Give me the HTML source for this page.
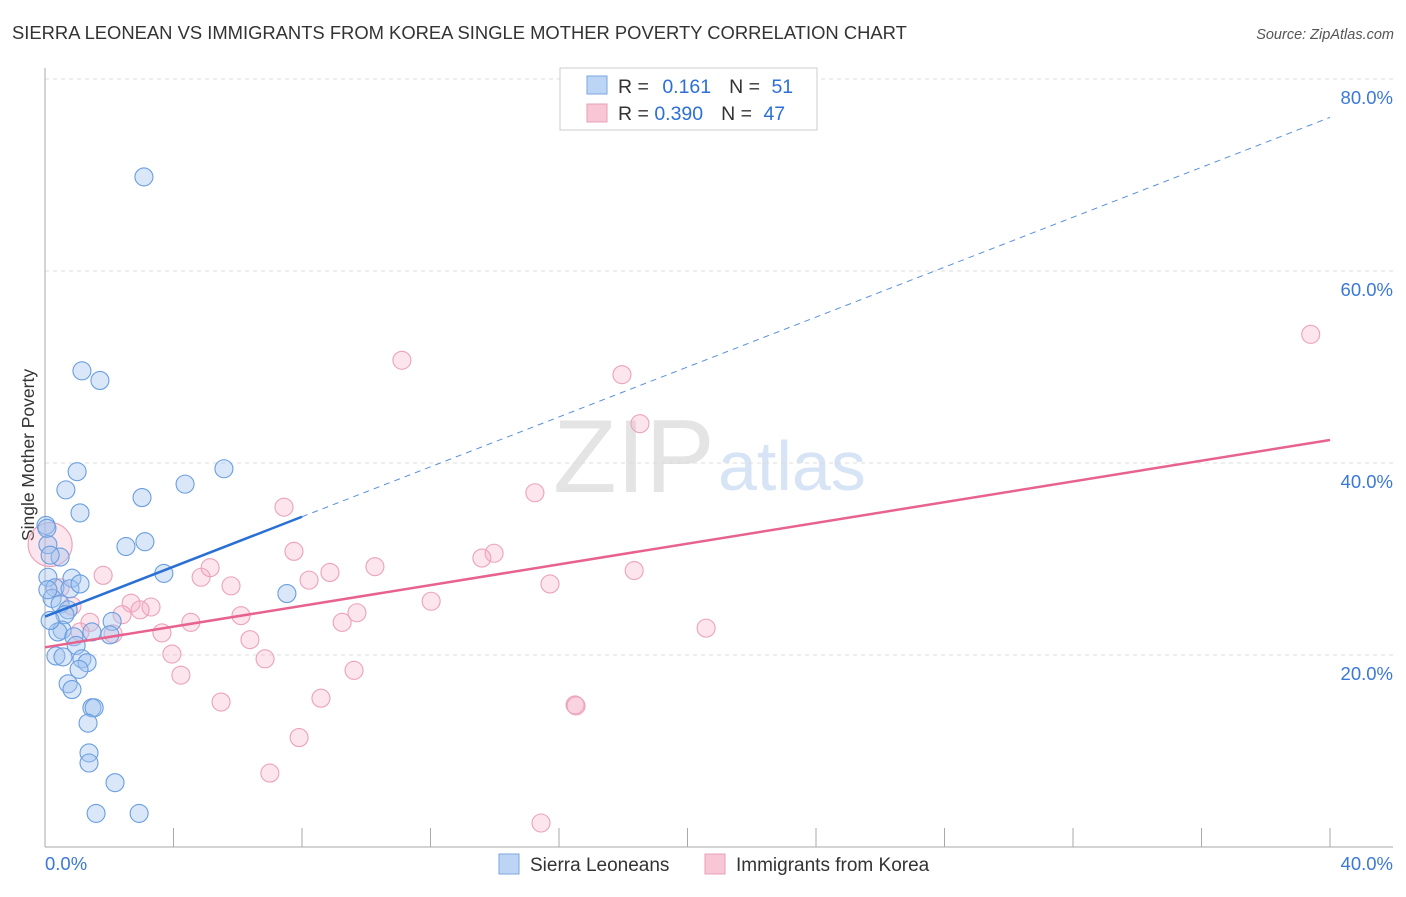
<!DOCTYPE html>
<html><head><meta charset="utf-8"><style>
body{margin:0;background:#fff;font-family:"Liberation Sans",sans-serif;}
svg text{font-family:"Liberation Sans",sans-serif;}
</style></head><body>
<svg id="c" width="1406" height="892">
<text x="12" y="39" font-size="18.4" fill="#333">SIERRA LEONEAN VS IMMIGRANTS FROM KOREA SINGLE MOTHER POVERTY CORRELATION CHART</text>
<text x="1394" y="39" font-size="14.5" fill="#555" text-anchor="end" font-style="italic">Source: ZipAtlas.com</text>
<text x="34" y="455" font-size="17.5" fill="#333" transform="rotate(-90 34 455)" text-anchor="middle">Single Mother Poverty</text>
<text x="553" y="492" font-size="104" fill="#e4e4e4" font-family="Liberation Serif">ZIP</text>
<text x="718" y="490" font-size="70" fill="#d6e4f5">atlas</text>
<g id="grid"></g><g id="pts"></g><g id="lines"></g>
<g>
<rect x="560" y="68" width="257" height="62" fill="#fff" stroke="#ccc"/>
<rect x="587" y="76" width="20" height="18" fill="#bcd5f5" stroke="#7aa6e0"/>
<rect x="587" y="104" width="20" height="18" fill="#f8c6d4" stroke="#e9a0b6"/>
<text x="618" y="93" font-size="19.5" fill="#333">R = <tspan fill="#2c6fd6" dx="8">0.161</tspan><tspan fill="#333" dx="18">N = </tspan><tspan fill="#2c6fd6" dx="6">51</tspan></text>
<text x="618" y="120" font-size="19.5" fill="#333">R = <tspan fill="#2c6fd6">0.390</tspan><tspan fill="#333" dx="18">N = </tspan><tspan fill="#2c6fd6" dx="6">47</tspan></text>
</g>
<g>
<rect x="499" y="854" width="20" height="20" fill="#bcd5f5" stroke="#7aa6e0"/>
<text x="530" y="871" font-size="19" fill="#333">Sierra Leoneans</text>
<rect x="705" y="854" width="20" height="20" fill="#f8c6d4" stroke="#e9a0b6"/>
<text x="736" y="871" font-size="19" fill="#333">Immigrants from Korea</text>
</g>
</svg>
<script>
const yTicks=[20,40,60,80];
const yTickLabels=["20.0%","40.0%","60.0%","80.0%"];
const xTickLabels=["0.0%","40.0%"];
const blueX=[3.08,1.15,1.71,5.57,1.0,4.36,0.65,3.02,1.09,0.03,3.11,2.52,0.09,0.47,0.16,3.70,0.09,0.84,0.31,0.78,7.53,0.22,0.47,0.72,0.62,2.09,0.53,0.40,2.02,1.46,0.90,0.97,0.34,0.56,1.15,1.31,1.06,0.72,0.84,1.46,1.53,1.34,1.37,1.37,2.18,1.59,2.93,0.09,1.09,0.16,0.06];
const blueY=[69.8,49.6,48.6,39.4,39.1,37.8,37.2,36.4,34.8,33.5,31.8,31.3,31.5,30.2,30.4,28.5,28.1,28.0,27.0,26.9,26.4,25.9,25.3,24.7,24.2,23.5,22.6,22.4,22.1,22.4,21.9,21.0,19.9,19.8,19.6,19.2,18.5,17.0,16.4,14.5,14.5,12.9,9.8,8.75,6.7,3.5,3.5,26.8,27.4,23.6,33.2];
const pinkX=[39.4,11.11,17.96,18.52,15.25,7.44,13.98,13.60,7.75,10.27,18.34,8.87,1.81,4.86,8.22,5.14,15.72,5.79,12.02,2.68,3.30,2.96,2.40,9.71,6.10,4.54,9.25,1.40,20.58,1.09,3.64,2.12,6.38,3.95,6.85,4.23,9.62,5.48,8.59,16.50,16.53,7.91,7.0,15.44,0.16,0.84,0.47];
const pinkY=[53.4,50.7,49.2,44.1,36.9,35.4,30.6,30.1,30.8,29.2,28.8,28.6,28.3,28.1,27.8,29.1,27.4,27.2,25.6,25.4,25.0,24.7,24.2,24.4,24.1,23.4,23.4,23.4,22.8,22.4,22.3,22.2,21.6,20.1,19.6,17.9,18.4,15.1,15.5,14.8,14.7,11.4,7.7,2.5,31.5,25.1,27.0];
const blueTrend=[24.0,76.0];const blueSolidEnd=8.0;
const pinkTrend=[20.8,42.4];
const X=v=>45+v/40*1285, Y=v=>847-v/20*192;
const NS="http://www.w3.org/2000/svg";
function mk(t,a,p){const e=document.createElementNS(NS,t);for(const k in a)e.setAttribute(k,a[k]);p.appendChild(e);return e;}
const g=document.getElementById('grid');
yTicks.forEach((t,i)=>{
 const l=mk('line',{x1:45,x2:1393,y1:Y(t),y2:Y(t),stroke:'#ddd','stroke-dasharray':'4,4'},g);
 
 
 const tx=mk('text',{x:1393,y:Y(t)+25,'font-size':18.5,fill:'#3a78d8','text-anchor':'end'},g);tx.textContent=yTickLabels[i];
 
 
});
mk('line',{x1:45,x2:45,y1:68,y2:847,stroke:'#aaa'},g);
mk('line',{x1:45,x2:1393,y1:847,y2:847,stroke:'#aaa'},g);
for(let i=0;i<=10;i++){mk('line',{x1:X(i*4),x2:X(i*4),y1:828,y2:847,stroke:'#aaa'},g);}
const xl=mk('text',{x:45,y:870,'font-size':18.5,fill:'#3a78d8'},g);xl.textContent=xTickLabels[0];


const xr=mk('text',{x:1393,y:870,'font-size':18.5,fill:'#3a78d8','text-anchor':'end'},g);xr.textContent=xTickLabels[1];


const p=document.getElementById('pts');
pinkX.forEach((x,i)=>{const c=mk('circle',{cx:X(x),cy:Y(pinkY[i]),r:i==44?22:9,fill:'rgba(246,170,195,0.3)',stroke:'#eba2ba','stroke-width':1.1},p);
 
 });
blueX.forEach((x,i)=>{const c=mk('circle',{cx:X(x),cy:Y(blueY[i]),r:9,fill:'rgba(160,196,240,0.4)',stroke:'#6a9ee0','stroke-width':1.1},p);
 
 });
const L=document.getElementById('lines');
const bf=x=>blueTrend[0]+(blueTrend[1]-blueTrend[0])*x/40;
const b1=mk('line',{x1:X(0),y1:Y(bf(0)),x2:X(blueSolidEnd),y2:Y(bf(blueSolidEnd)),stroke:'#2a6fd4','stroke-width':2.5},L);


const b2=mk('line',{x1:X(blueSolidEnd),y1:Y(bf(blueSolidEnd)),x2:X(40),y2:Y(bf(40)),stroke:'#5a90dc','stroke-width':1,'stroke-dasharray':'6,5'},L);


const pl=mk('line',{x1:X(0),y1:Y(pinkTrend[0]),x2:X(40),y2:Y(pinkTrend[1]),stroke:'#e8628e','stroke-width':2.5},L);


</script>
</body></html>
